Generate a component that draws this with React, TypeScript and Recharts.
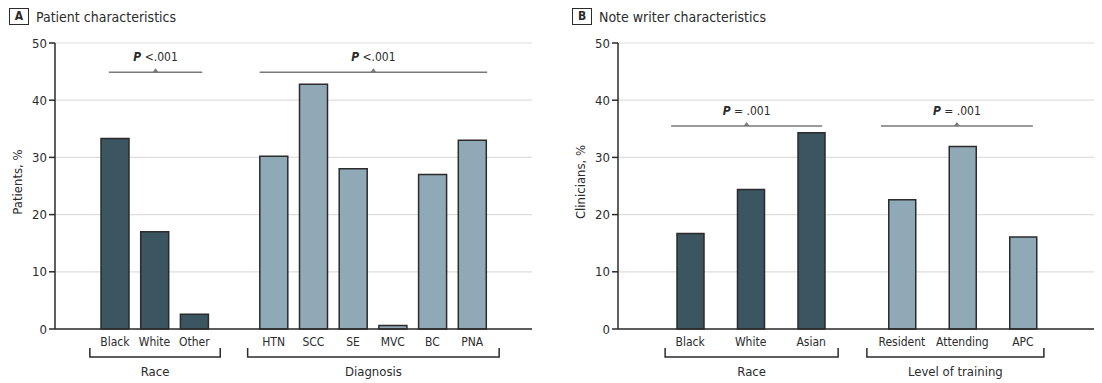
import React from 'react';
import { BarChart, Bar, XAxis, YAxis, CartesianGrid, Cell, ReferenceLine } from 'recharts';

// Panel A – patient characteristics
const patientRace = ['Black', 'White', 'Other'];
const patientRaceValues = [33.3, 17.0, 2.6];
const diagnoses = ['HTN', 'SCC', 'SE', 'MVC', 'BC', 'PNA'];
const diagnosisValues = [30.2, 42.8, 28.0, 0.6, 27.0, 33.0];

// Panel B – note writer characteristics
const writerRace = ['Black', 'White', 'Asian'];
const writerRaceValues = [16.7, 24.4, 34.3];
const training = ['Resident', 'Attending', 'APC'];
const trainingValues = [22.6, 31.9, 16.1];

const yTicks = [0, 10, 20, 30, 40, 50];

const FONT = '"Liberation Sans Narrow", "DejaVu Sans Condensed", "Roboto", sans-serif';
const DARK = '#3b5561';
const LIGHT = '#8fa9b6';
const INK = '#2b2b2b';

type Row = { key: string; value: number | null; fill: string };

const rows = (names: string[], values: number[], fill: string): Row[] =>
    names.map((n, i) => ({ key: n, value: values[i], fill }));
const gap = (id: string): Row => ({ key: '_' + id, value: null, fill: 'none' });

const dataA: Row[] = [
    ...rows(patientRace, patientRaceValues, DARK),
    gap('a'),
    ...rows(diagnoses, diagnosisValues, LIGHT),
];

// half-width spacers keep Race bars further apart than in panel A
const dataB: Row[] = [
    { key: writerRace[0], value: writerRaceValues[0], fill: DARK }, gap('1'),
    { key: writerRace[1], value: writerRaceValues[1], fill: DARK }, gap('2'),
    { key: writerRace[2], value: writerRaceValues[2], fill: DARK }, gap('3'), gap('4'),
    { key: training[0], value: trainingValues[0], fill: LIGHT }, gap('5'),
    { key: training[1], value: trainingValues[1], fill: LIGHT }, gap('6'),
    { key: training[2], value: trainingValues[2], fill: LIGHT },
];

const bracket = (label: string, extL: number, extR: number) => (p: any) => {
    const xa = p.x1 - extL;
    const xb = p.x2 + extR;
    const yTop = p.y1 + 19;
    const yLine = p.y1 + 28;
    return (
        <g>
            <path d={`M${xa},${yTop}V${yLine}H${xb}V${yTop}`} stroke={INK} strokeWidth={1.5} fill="none" />
            <text x={(xa + xb) / 2} y={p.y1 + 47} textAnchor="middle" fontSize={13} fill={INK} fontFamily={FONT}>
                {label}
            </text>
        </g>
    );
};

const pValue = (sign: string, extL: number, extR: number) => (p: any) => {
    const xa = p.x1 - extL;
    const xb = p.x2 + extR;
    const mid = (xa + xb) / 2;
    const y = p.y1;
    return (
        <g>
            <line x1={xa} x2={xb} y1={y} y2={y} stroke="#7a7a7a" strokeWidth={1.5} />
            <path d={`M${mid - 3},${y}L${mid},${y - 4}L${mid + 3},${y}Z`} fill="#7a7a7a" />
            <text x={mid} y={y - 11} textAnchor="middle" fontSize={12} fill={INK} fontFamily={FONT}>
                <tspan fontStyle="italic" fontWeight="bold">P</tspan>
                {sign}
            </text>
        </g>
    );
};

const yLabel = (text: string, dx: number) => ({ viewBox }: any) => {
    const cx = viewBox.x + dx;
    const cy = viewBox.y + viewBox.height / 2 - 4;
    return (
        <text x={cx} y={cy} transform={`rotate(-90 ${cx} ${cy})`} textAnchor="middle" dominantBaseline="central"
            fontSize={13} fill={INK} fontFamily={FONT}>
            {text}
        </text>
    );
};

const xTickStyle = { fontSize: 12, fill: INK, fontFamily: FONT };
const yTickStyle = { fontSize: 13, fill: INK, fontFamily: FONT };
const hideGap = (v: string) => (v.startsWith('_') ? '' : v);

const Title = ({ letter, text, left }: { letter: string; text: string; left: number }) => (
    <div style={{ position: 'absolute', left, top: 8, display: 'flex', alignItems: 'center', fontFamily: FONT, color: INK }}>
        <div style={{ width: 18, height: 15, border: `1.5px solid ${INK}`, fontWeight: 'bold', fontSize: 12, textAlign: 'center', lineHeight: '15px' }}>
            {letter}
        </div>
        <div style={{ marginLeft: 7, fontSize: 14 }}>{text}</div>
    </div>
);

export default function App() {
    return (
        <div style={{ position: 'absolute', left: 0, top: 0, width: 1102, height: 383, background: '#fff', overflow: 'hidden' }}>
            <Title letter="A" text="Patient characteristics" left={9} />
            <Title letter="B" text="Note writer characteristics" left={572} />

            <div style={{ position: 'absolute', left: 0, top: 0 }}>
                <BarChart width={545} height={383} data={dataA} margin={{ top: 43, right: 13, left: 0, bottom: 24 }}>
                    <CartesianGrid vertical={false} stroke="#dedede" strokeWidth={1.2} />
                    <XAxis dataKey="key" interval={0} tickLine={false} tickFormatter={hideGap}
                        axisLine={{ stroke: INK, strokeWidth: 1.5 }} tick={xTickStyle} padding={{ left: 40, right: 40 }} />
                    <YAxis domain={[0, 50]} ticks={yTicks} width={55} tickSize={6} interval={0}
                        axisLine={{ stroke: INK, strokeWidth: 1.5 }} tickLine={{ stroke: INK, strokeWidth: 1.5 }}
                        tick={yTickStyle} label={{ content: yLabel('Patients, %', 17) }} />
                    <Bar dataKey="value" barSize={28} stroke={INK} strokeWidth={1.5} isAnimationActive={false}>
                        {dataA.map((d) => (
                            <Cell key={d.key} fill={d.fill} />
                        ))}
                    </Bar>
                    <ReferenceLine segment={[{ x: 'Black', y: 44.9 }, { x: 'Other', y: 44.9 }]} ifOverflow="visible" shape={pValue(' <.001', 6, 8)} />
                    <ReferenceLine segment={[{ x: 'HTN', y: 44.9 }, { x: 'PNA', y: 44.9 }]} ifOverflow="visible" shape={pValue(' <.001', 14, 15)} />
                    <ReferenceLine segment={[{ x: 'Black', y: 0 }, { x: 'Other', y: 0 }]} ifOverflow="visible" shape={bracket('Race', 25, 26)} />
                    <ReferenceLine segment={[{ x: 'HTN', y: 0 }, { x: 'PNA', y: 0 }]} ifOverflow="visible" shape={bracket('Diagnosis', 26, 27)} />
                </BarChart>
            </div>

            <div style={{ position: 'absolute', left: 560, top: 0 }}>
                <BarChart width={542} height={383} data={dataB} margin={{ top: 43, right: 8, left: 0, bottom: 24 }}>
                    <CartesianGrid vertical={false} stroke="#dedede" strokeWidth={1.2} />
                    <XAxis dataKey="key" interval={0} tickLine={false} tickFormatter={hideGap}
                        axisLine={{ stroke: INK, strokeWidth: 1.5 }} tick={xTickStyle} padding={{ left: 57, right: 56 }} />
                    <YAxis domain={[0, 50]} ticks={yTicks} width={58} tickSize={6} interval={0}
                        axisLine={{ stroke: INK, strokeWidth: 1.5 }} tickLine={{ stroke: INK, strokeWidth: 1.5 }}
                        tick={yTickStyle} label={{ content: yLabel('Clinicians, %', 20) }} />
                    <Bar dataKey="value" barSize={27} stroke={INK} strokeWidth={1.5} isAnimationActive={false}>
                        {dataB.map((d) => (
                            <Cell key={d.key} fill={d.fill} />
                        ))}
                    </Bar>
                    <ReferenceLine segment={[{ x: 'Black', y: 35.5 }, { x: 'Asian', y: 35.5 }]} ifOverflow="visible" shape={pValue(' = .001', 19, 11)} />
                    <ReferenceLine segment={[{ x: 'Resident', y: 35.5 }, { x: 'APC', y: 35.5 }]} ifOverflow="visible" shape={pValue(' = .001', 21, 10)} />
                    <ReferenceLine segment={[{ x: 'Black', y: 0 }, { x: 'Asian', y: 0 }]} ifOverflow="visible" shape={bracket('Race', 25, 27)} />
                    <ReferenceLine segment={[{ x: 'Resident', y: 0 }, { x: 'APC', y: 0 }]} ifOverflow="visible" shape={bracket('Level of training', 35, 21)} />
                </BarChart>
            </div>
        </div>
    );
}
